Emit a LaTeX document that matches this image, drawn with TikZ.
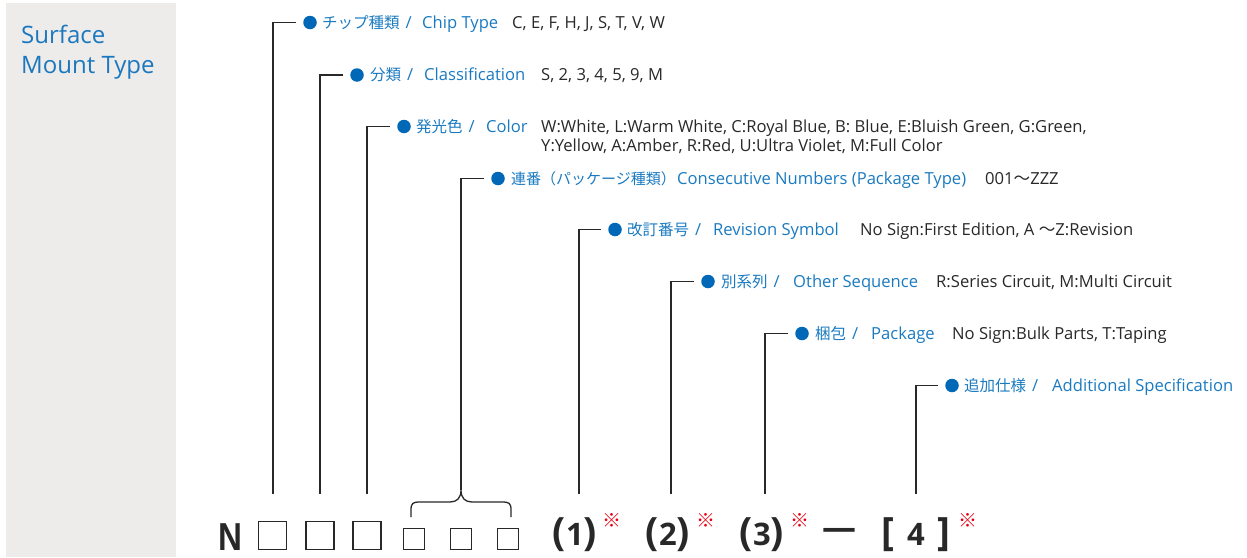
\documentclass[tikz,border=0pt]{standalone}
\usepackage{fontspec}
\setmainfont{Open Sans}
\newfontfamily\jp{Noto Sans CJK JP}
\newfontfamily\nfont[FakeStretch=0.85]{Liberation Sans}
\definecolor{panelgray}{RGB}{237,236,234}
\definecolor{titleblue}{RGB}{28,120,190}
\definecolor{labelblue}{RGB}{26,122,192}
\definecolor{bulblue}{RGB}{0,104,183}
\definecolor{txtgray}{RGB}{40,40,40}
\definecolor{linegray}{RGB}{40,40,40}
\definecolor{markred}{RGB}{230,0,18}
\begin{document}
\begin{tikzpicture}[x=1pt,y=-1pt,
  lbl/.style={anchor=base west, inner sep=0, font=\fontsize{16.6}{18}\selectfont, text=labelblue},
  val/.style={anchor=base west, inner sep=0, font=\fontsize{16.6}{18}\selectfont, text=txtgray},
  bul/.style={circle, fill=bulblue, minimum size=13.5, inner sep=0},
  conn/.style={draw=linegray, line width=1.3},
  bigsq/.style={rectangle, draw=linegray, line width=1.3, minimum width=28, minimum height=28, inner sep=0},
  smsq/.style={rectangle, draw=linegray, line width=1.3, minimum width=21.5, minimum height=21.5, inner sep=0},
  jpl/.style={anchor=base west, inner sep=0, font=\jp\fontsize{15.5}{18}\selectfont, text=labelblue},
  bigtxt/.style={anchor=base, inner sep=0, text=txtgray, font=\bfseries\fontsize{31}{31}\selectfont},
  refmark/.style={anchor=center, inner sep=0, text=markred, font=\jp\fontsize{19}{19}\selectfont}
]
\newcommand\slashmark{\hspace{6pt}{\fontspec{Open Sans}\fontsize{16.6}{18}\selectfont/}}
\newcommand\bigpar[1]{{\fontsize{39}{39}\selectfont#1}}
\useasboundingbox (0,0) rectangle (1247,557);
\fill[panelgray] (6,3) rectangle (176,557);
\node[anchor=base west, inner sep=0, font=\fontsize{24}{29}\selectfont, text=titleblue] (t1) at (21,43.5) {Surface};
\node[anchor=base west, inner sep=0, font=\fontsize{24}{29}\selectfont, text=titleblue] (t2) at (21,73) {Mount Type};

% bottom row
\node[anchor=base, inner sep=0, text=txtgray, font=\nfont\bfseries\fontsize{39}{39}\selectfont] (N) at (230.5,550) {N};
\node[bigsq] (sq1) at (272.5,535.5) {};
\node[bigsq] (sq2) at (320,535.5) {};
\node[bigsq] (sq3) at (367,535.5) {};
\node[smsq] (sq4) at (414,539) {};
\node[smsq] (sq5) at (461,539) {};
\node[smsq] (sq6) at (508,539) {};
\node[bigtxt] (p1) at (575,545) {\bigpar{(}1\bigpar{)}};
\node[refmark] (m1) at (611.5,520) {※};
\node[bigtxt] (p2) at (668,545) {\bigpar{(}2\bigpar{)}};
\node[refmark] (m2) at (705.5,520) {※};
\node[bigtxt] (p3) at (762,545) {\bigpar{(}3\bigpar{)}};
\node[refmark] (m3) at (799.5,520) {※};
\node[anchor=center, inner sep=0, text=txtgray, font=\bfseries\fontsize{34}{34}\selectfont] (dash) at (839,534) {—};
\node[bigtxt] (br) at (916,545) {\bigpar{[}\hspace{13pt}4\hspace{13pt}\bigpar{]}};
\node[refmark] (m4) at (968,520) {※};

% connector ends
\coordinate (e1) at (273,494);
\coordinate (e2) at (320,494);
\coordinate (e3) at (367,494);
\coordinate (e5) at (579,494);
\coordinate (e6) at (671,494);
\coordinate (e7) at (765,494);
\coordinate (e8) at (916,494);
\coordinate (tip) at (461,490);

% brace
\draw[conn] (411,517) -- (411,510) .. controls (411,503) and (413,502) .. (420,502) -- (450,502) .. controls (457,502) and (461,498) .. (tip) .. controls (461,498) and (465,502) .. (472,502) -- (502,502) .. controls (509,502) and (511,503) .. (511,510) -- (511,517);

% row 1
\node[bul] (b1) at (310,22.5) {};
\node[jpl] (j1) at (322,28) {チップ種類\slashmark};
\node[lbl] (n1) at (422,28) {Chip Type};
\node[val] (v1) at (512,28) {C, E, F, H, J, S, T, V, W};
\draw[conn] ([xshift=-7]b1.west) -| (e1);
% row 2
\node[bul] (b2) at (357,75) {};
\node[jpl] (j2) at (370,80.5) {分類\slashmark};
\node[lbl] (n2) at (424,80.5) {Classification};
\node[val] (v2) at (541,80.5) {S, 2, 3, 4, 5, 9, M};
\draw[conn] ([xshift=-7]b2.west) -| (e2);
% row 3
\node[bul] (b3) at (404,126.5) {};
\node[jpl] (j3) at (416,132) {発光色\slashmark};
\node[lbl] (n3) at (486,132) {Color};
\node[val] (v3) at (541,132) {W:White, L:Warm White, C:Royal Blue, B: Blue, E:Bluish Green, G:Green,};
\node[val] (v3b) at (541,151) {Y:Yellow, A:Amber, R:Red, U:Ultra Violet, M:Full Color};
\draw[conn] ([xshift=-7]b3.west) -| (e3);
% row 4
\node[bul] (b4) at (498,178.5) {};
\node[jpl, font=\jp\fontsize{15}{18}\selectfont] (j4) at (511,184) {連番（パッケージ種類）};
\node[lbl] (n4) at (677,184) {Consecutive Numbers (Package Type)};
\node[val] (v4) at (985,184) {001{\jp ～}ZZZ};
\draw[conn] ([xshift=-7]b4.west) -| (tip);
% row 5
\node[bul] (b5) at (615,229.5) {};
\node[jpl] (j5) at (627,235) {改訂番号\slashmark};
\node[lbl] (n5) at (713,235) {Revision Symbol};
\node[val] (v5) at (860,235) {No Sign:First Edition, A {\jp ～}Z:Revision};
\draw[conn] ([xshift=-7]b5.west) -| (e5);
% row 6
\node[bul] (b6) at (708,281.5) {};
\node[jpl] (j6) at (721,287) {別系列\slashmark};
\node[lbl] (n6) at (793,287) {Other Sequence};
\node[val] (v6) at (936,287) {R:Series Circuit, M:Multi Circuit};
\draw[conn] ([xshift=-7]b6.west) -| (e6);
% row 7
\node[bul] (b7) at (802,333.5) {};
\node[jpl] (j7) at (815,339) {梱包\slashmark};
\node[lbl] (n7) at (871,339) {Package};
\node[val] (v7) at (952,339) {No Sign:Bulk Parts, T:Taping};
\draw[conn] ([xshift=-7]b7.west) -| (e7);
% row 8
\node[bul] (b8) at (952,385.5) {};
\node[jpl] (j8) at (964,391) {追加仕様\slashmark};
\node[lbl] (n8) at (1052,391) {Additional Specification};
\draw[conn] ([xshift=-7]b8.west) -| (e8);
\end{tikzpicture}
\end{document}
